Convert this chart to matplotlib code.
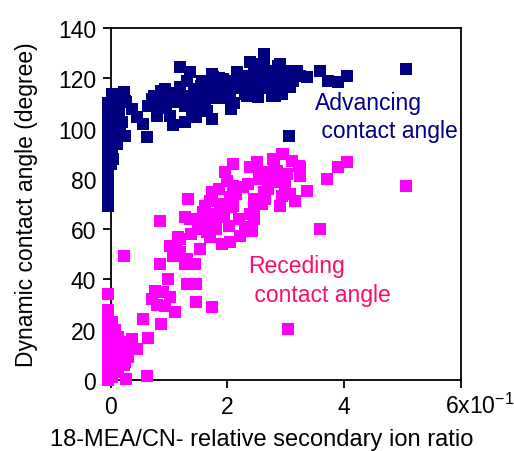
import numpy as np
import matplotlib
matplotlib.use("Agg")
import matplotlib.pyplot as plt
import matplotlib.transforms as mtransforms

plt.rcParams['font.family'] = ['Liberation Sans', 'DejaVu Sans']
plt.rcParams['mathtext.fontset'] = 'custom'
plt.rcParams['mathtext.rm'] = 'Liberation Sans'
plt.rcParams['mathtext.it'] = 'Liberation Sans'

# advancing contact angle (x in units of 1e-1)
adv_x = [-0.05, -0.05, -0.05, -0.05, -0.05, -0.05, -0.05, -0.05, -0.05, -0.05, -0.05, -0.05,
         -0.05, -0.05, -0.05, 0.0, 0.0, 0.02, 0.02, 0.03, 0.05, 0.05, 0.08, 0.07, 0.10, 0.13,
         0.10, 0.16, 0.19, 0.22, 0.25, 0.25, 0.27, 0.36, 0.45, 0.56, 0.62, 0.15, 0.04, 0.08,
         0.64, 0.70, 0.79, 0.79, 0.87, 0.87, 0.93, 1.02, 1.02, 1.07, 1.13, 1.18, 1.18, 1.27,
         1.27, 1.30, 1.36, 1.42, 1.47, 1.47, 1.56, 1.62, 1.65, 1.65, 1.73, 1.73, 1.76, 1.82,
         1.93, 1.96, 2.05, 2.07, 2.16, 2.30, 2.33, 2.33, 2.39, 2.45, 2.53, 2.59, 2.62, 2.62,
         2.62, 2.76, 2.82, 2.82, 2.85, 2.87, 2.90, 2.90, 2.93, 2.84, 3.07, 3.06, 3.19, 3.36,
         3.59, 3.73, 3.90, 4.05, 5.07, 1.10, 1.20, 1.35, 1.50, 1.55, 1.70, 1.80, 1.88, 2.00,
         2.10, 2.20, 2.25, 2.40, 2.50, 2.55, 2.70, 2.70, 2.95, 3.00, 0.95, 1.40, 0.75, 2.12,
         1.90, 1.58, 1.68, 1.85, 2.02, 2.18, 2.28, 2.36, 2.48, 2.66, 2.74, 2.98, 3.12, 1.45,
         1.25, 1.05, 0.85, 2.58, 2.80, 3.25]
adv_y = [69, 72, 75, 78, 81, 84, 87, 90, 93, 96, 99, 102,
         105, 108, 110, 86, 95, 91.9, 113.8, 100, 104, 97, 108, 105.1, 93.9, 103.2,
         110, 99.2, 102.5, 114.4, 111, 97.2, 110.4, 107.8, 104.5, 101.8, 96.5, 107, 88, 96,
         109.1, 111.8, 105.1, 109.1, 115.1, 111.1, 115.7, 113.1, 105.1, 101.4, 110.4, 124.4, 116.4, 102.7,
         109.1, 119, 122.4, 115.7, 104.5, 109.1, 119, 111.8, 107.1, 119, 103.8, 121.7, 120.4, 117.1,
         119.7, 119, 113.1, 107.8, 122.4, 113.8, 119.7, 113.1, 126.4, 122.4, 112.4, 125.7, 129.7, 125,
         118.4, 113.1, 113.1, 123, 121, 125, 125.7, 121, 113.8, 115.7, 116.4, 97.2, 123, 120.4,
         123, 119, 118.4, 121, 123.7, 114, 112, 113, 114, 117, 115, 112, 116, 117,
         119, 116, 120, 118, 116, 120, 118, 122, 118, 121, 108, 106, 113, 110,
         112, 114, 118, 120, 115, 118, 121, 117, 119, 116, 120, 123, 119, 111,
         113, 111, 112, 122, 118, 121]

# receding contact angle
rec_x = [-0.05, -0.05, -0.05, -0.05, -0.05, -0.05, -0.05, -0.05, -0.05, -0.05, -0.05, -0.05,
         -0.05, -0.05, -0.05, -0.05, 0.03, 0.05, 0.08, 0.10, 0.13, 0.13, 0.10, 0.15, 0.19, 0.22,
         0.24, 0.27, 0.27, 0.36, 0.45, 0.62, 0.64, 0.56, 0.05, 0.08, 0.02, 0.12, 0.20, 0.30,
         0.05, 0.22, 0.70, 0.76, 0.90, 1.02, 0.93, 1.10, 0.87, 1.30, 1.47, 1.47, 1.73, 0.85,
         1.07, 1.19, 1.27, 1.30, 1.45, 1.02, 1.16, 1.19, 0.85, 1.27, 1.36, 1.53, 1.59, 1.59,
         1.62, 1.65, 1.70, 1.82, 1.90, 2.02, 2.05, 2.22, 2.30, 2.42, 2.45, 2.45, 2.10, 2.07,
         2.90, 1.33, 1.62, 1.70, 1.73, 1.85, 1.96, 1.99, 2.05, 2.10, 2.10, 2.27, 2.39, 2.50,
         2.56, 2.62, 2.65, 2.45, 2.67, 2.85, 2.87, 2.93, 2.96, 2.93, 2.99, 3.07, 3.10, 3.16,
         3.22, 3.25, 3.25, 3.36, 3.59, 3.70, 3.90, 4.05, 5.07, 3.04, 2.80, 2.75,
         1.12, 1.38, 1.50, 1.76, 1.88, 2.15, 2.35, 2.55, 2.70, 2.60, 2.78, 3.02, 1.95, 2.20,
         2.38, 1.80, 0.80, 0.98, 1.55, 2.00]
rec_y = [0, 2, 4, 6, 8, 10, 12, 14, 16, 18, 20, 22,
         24, 26, 28, 34.2, 1, 5, 9, 3, 3, 17, 13, 8, 11, 6,
         7, 13.6, 0.4, 16.3, 12.3, 1.7, 16.6, 24.3, 15, 20, 23, 12, 15, 9,
         11, 49.4, 32.2, 35.5, 34.9, 32.9, 29.6, 26.9, 22.3, 38.2, 38.2, 31.1, 28.9, 46.1,
         49.2, 50.8, 46.1, 48.1, 46.1, 53.4, 56.8, 56, 63.4, 64.7, 64, 52.1, 66.7, 60,
         61.4, 58.7, 56.8, 64.7, 54.1, 61.4, 54.8, 57.4, 60.7, 59.4, 64, 68, 69.3, 68.7,
         69.3, 72, 69.3, 71.3, 74.6, 76, 82.6, 79.3, 72.7, 77.3, 85.9, 76.6, 84.6, 86.6,
         80, 74.6, 72, 72, 82.6, 83.3, 78.6, 89.9, 89.9, 73.3, 77.3, 74, 87.2, 71.3,
         85.2, 84.6, 81.3, 75.3, 60, 80, 84.6, 86.6, 77.3, 20.3, 86, 80,
         52, 58, 62, 66, 70, 74, 78, 82, 76, 70, 88, 82, 66, 64,
         66, 60, 30, 40, 64, 70]

xticks = [0, 2, 4, 6]
xtick_labels = ['0', '2', '4', '6x10$^{-1}$']
yticks = [0, 20, 40, 60, 80, 100, 120, 140]

fig = plt.figure(figsize=(5.14, 4.52), dpi=100)
ax = fig.add_axes([0.2154, 0.1571, 0.6809, 0.7788])

ax.scatter(adv_x, adv_y, marker='s', s=72, color='#000080', linewidths=0, clip_on=False, zorder=3)
ax.scatter(rec_x, rec_y, marker='s', s=72, color='#FF00FF', linewidths=0, clip_on=False, zorder=3)

ax.set_xlim(0, 6)
ax.set_ylim(0, 140)
ax.set_xticks(xticks)
ax.set_xticklabels(xtick_labels)
ax.set_yticks(yticks)
ax.tick_params(direction='out', length=5.5, width=1.3, labelsize=16.5, pad=5)
for sp in ax.spines.values():
    sp.set_linewidth(1.3)

# last x label starts near its tick and sits on the same baseline
lab = ax.get_xticklabels()[-1]
lab.set_horizontalalignment('left')
lab.set_transform(lab.get_transform() + mtransforms.ScaledTranslation(-11 / 72, 1.5 / 72, fig.dpi_scale_trans))

ax.set_ylabel('Dynamic contact angle (degree)', fontsize=16.5, labelpad=14)
fig.text(262 / 514, 1 - 440 / 452, '18-MEA/CN- relative secondary ion ratio', fontsize=17,
         ha='center', va='center')

ax.text(3.5, 115, 'Advancing\n contact angle', color='#000080', fontsize=16.5, ha='left', va='top',
        linespacing=1.3)
ax.text(2.36, 50, 'Receding\n contact angle', color='#FF0A6E', fontsize=16.5, ha='left', va='top',
        linespacing=1.3)

fig.savefig('out.png', dpi=100)
